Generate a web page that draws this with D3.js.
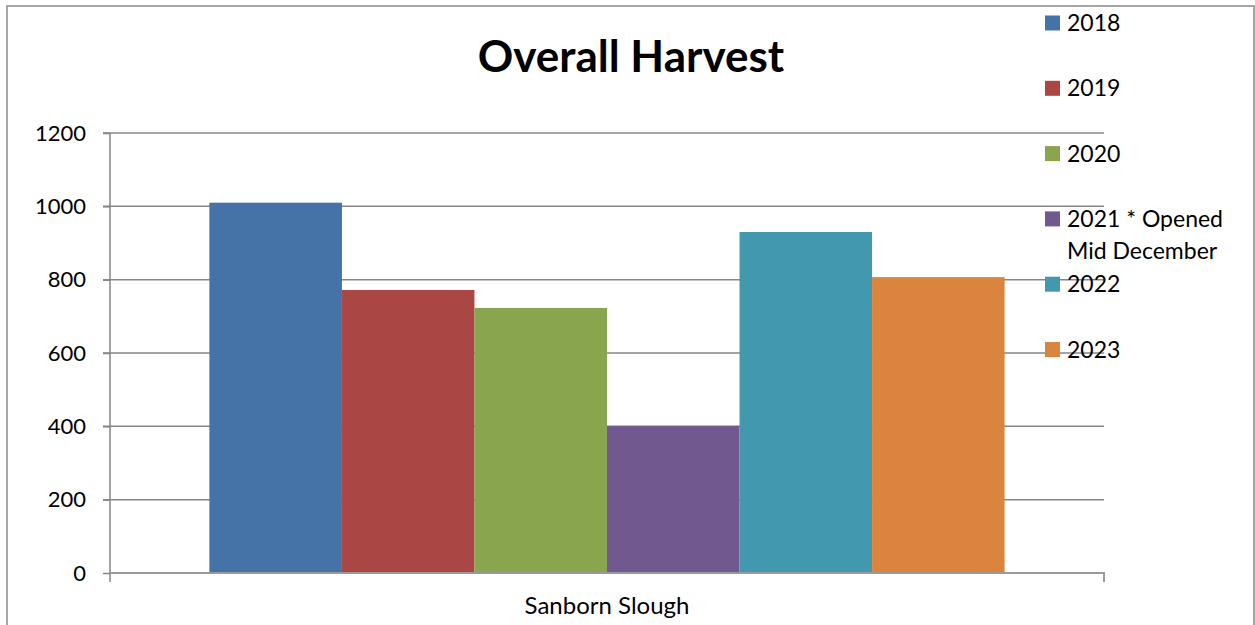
<!DOCTYPE html>
<html>
<head>
  <meta charset="utf-8">
  <title>Overall Harvest</title>
  <script src="https://d3js.org/d3.v7.min.js"></script>
  <style>
    body { margin: 0; background: #fff; }
    text { font-family: Lato, "Open Sans", sans-serif; fill: #000; }
  </style>
</head>
<body>
<script>
// data
var categories = ["Sanborn Slough"];
var seriesNames = ["2018", "2019", "2020", "2021 * Opened Mid December", "2022", "2023"];
var seriesValues = [1010, 772, 723, 401, 930, 807];
var seriesColors = ["#4572A7", "#AA4643", "#89A54E", "#71588F", "#4198AF", "#DB843D"];
var yTicks = [0, 200, 400, 600, 800, 1000, 1200];

var svgWidth = 1255, svgHeight = 625;
var margin = {left: 110, top: 133, right: 151, bottom: 52};
var graphWidth = svgWidth - margin.left - margin.right;
var graphHeight = svgHeight - margin.top - margin.bottom;

var svg = d3.select('body').append('svg')
    .attr('width', svgWidth)
    .attr('height', svgHeight);

// outer frame
svg.append('rect')
    .attr('x', 7).attr('y', 6)
    .attr('width', 1247).attr('height', 640)
    .attr('fill', 'none')
    .attr('stroke', '#888')
    .attr('stroke-width', 1.5);

var graph = svg.append('g')
    .attr('transform', 'translate(' + margin.left + ',' + margin.top + ')');

var y = d3.scaleLinear().domain([0, 1200]).range([graphHeight, 0]);
var x0 = d3.scaleBand().domain(categories).range([0, graphWidth]).paddingInner(0).paddingOuter(0.125);
var x1 = d3.scaleBand().domain(seriesNames).range([0, x0.bandwidth()]).padding(0);

// gridlines
graph.append('g')
    .selectAll('line')
    .data(yTicks.filter(function(d) { return d > 0; }))
    .enter().append('line')
    .attr('x1', -7).attr('x2', graphWidth)
    .attr('y1', function(d) { return y(d); })
    .attr('y2', function(d) { return y(d); })
    .attr('stroke', '#868686')
    .attr('stroke-width', 1.5);

// bars
graph.append('g')
    .selectAll('rect')
    .data(seriesValues)
    .enter().append('rect')
    .attr('x', function(d, i) { return x0(categories[0]) + x1(seriesNames[i]); })
    .attr('y', function(d) { return y(d); })
    .attr('width', x1.bandwidth())
    .attr('height', function(d) { return graphHeight - y(d); })
    .attr('fill', function(d, i) { return seriesColors[i]; });

// y axis
var yAxis = graph.append('g')
    .call(d3.axisLeft(y).tickValues(yTicks).tickFormat(d3.format('d')).tickSize(7).tickPadding(17));
yAxis.select('.domain').attr('stroke', '#868686').attr('stroke-width', 1.5)
    .attr('d', 'M0,' + (graphHeight + 9) + 'V0');
yAxis.selectAll('.tick line').attr('stroke', '#868686').attr('stroke-width', 1.5);
yAxis.selectAll('.tick text').style('font-size', '22px').style('font-family', 'Lato, "Open Sans", sans-serif').attr('fill', '#000');

// x axis
var xAxis = graph.append('g')
    .attr('transform', 'translate(0,' + graphHeight + ')')
    .call(d3.axisBottom(x0).tickSize(0).tickPadding(24));
xAxis.select('.domain').attr('stroke', '#9a9a9a').attr('stroke-width', 2)
    .attr('d', 'M0,0H' + graphWidth + 'V9');
xAxis.selectAll('.tick text').style('font-size', '24px').style('font-family', 'Lato, "Open Sans", sans-serif').attr('fill', '#000');

// title
svg.append('text')
    .attr('x', 631).attr('y', 72)
    .attr('text-anchor', 'middle')
    .style('font-size', '44px')
    .style('font-weight', 'bold')
    .text('Overall Harvest');

// legend
var legend = svg.append('g').attr('transform', 'translate(1045,23)');
var item = legend.selectAll('g')
    .data(seriesNames)
    .enter().append('g')
    .attr('transform', function(d, i) { return 'translate(0,' + (i * 65.3) + ')'; });
item.append('rect')
    .attr('x', 0).attr('y', -7.5)
    .attr('width', 15).attr('height', 15)
    .attr('fill', function(d, i) { return seriesColors[i]; });
item.append('text')
    .attr('x', 22)
    .style('font-size', '23px')
    .each(function(d) {
      var t = d3.select(this);
      var parts = d.indexOf('Mid') > 0 ? [d.slice(0, d.indexOf('Mid') - 1), d.slice(d.indexOf('Mid'))] : [d];
      parts.forEach(function(p, k) {
        t.append('tspan').attr('x', 22).attr('dy', k === 0 ? '0.35em' : '1.4em').text(p);
      });
    });
</script>
</body>
</html>
